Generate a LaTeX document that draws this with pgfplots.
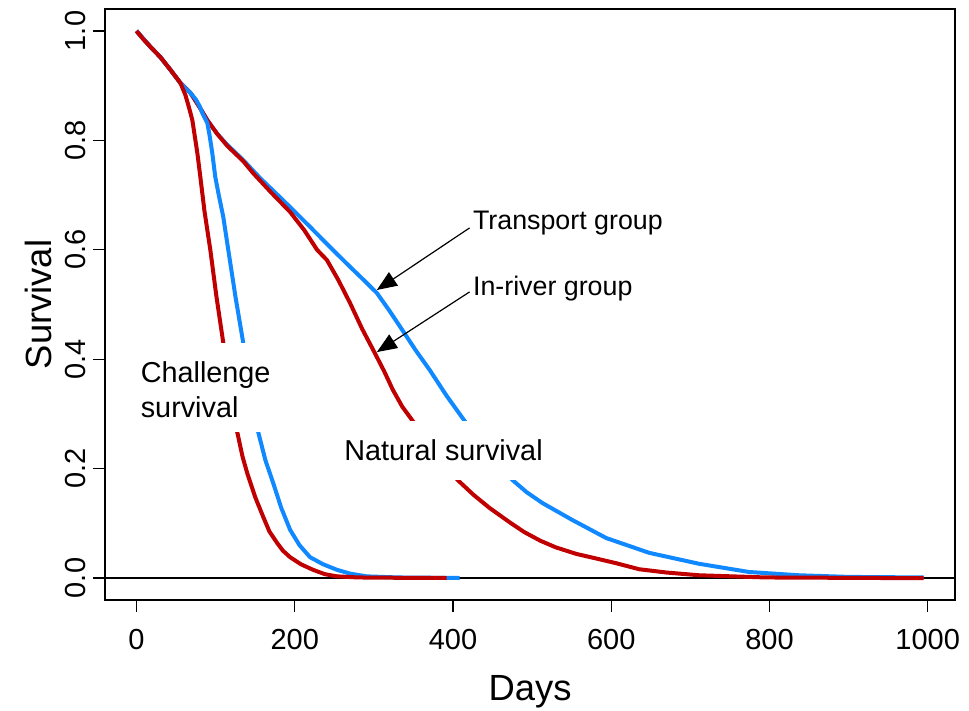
\documentclass[border=0pt]{standalone}
\usepackage{pgfplots}
\pgfplotsset{compat=1.18}
\usepackage{fontspec}
\setmainfont{Liberation Sans}
\usetikzlibrary{arrows.meta}
\definecolor{cred}{RGB}{192,0,0}
\definecolor{cblue}{RGB}{16,136,255}
\begin{document}
\begin{tikzpicture}
\useasboundingbox (-52.5pt,-55.5pt) rectangle (432pt,300pt);
\begin{axis}[
  at={(0,0)}, anchor=south west,
  scale only axis, width=425pt, height=295.5pt,
  xmin=-39.8, xmax=1034.5, ymin=-0.0402, ymax=1.0402,
  axis line style={line width=1pt},
  xtick={0,200,400,600,800,1000},
  ytick={0,0.2,0.4,0.6,0.8,1.0},
  tick align=outside, tick pos=left,
  major tick length=6pt,
  tick style={line width=0.6pt, black},
  /pgf/number format/assume math mode=true,
  /pgf/number format/1000 sep={},
  yticklabel style={/pgf/number format/fixed, /pgf/number format/fixed zerofill, /pgf/number format/precision=1, rotate=90, anchor=south, font=\fontsize{14.5}{17}\selectfont},
  xticklabel style={font=\fontsize{14.5}{17}\selectfont, yshift=-5pt},
  scaled ticks=false,
  xlabel={Days}, ylabel={Survival},
  xlabel style={at={(axis description cs:0.5,-0.1557)}, anchor=center, font=\fontsize{18.2}{21}\selectfont},
  ylabel style={at={(axis description cs:-0.0788,0.5)}, anchor=center, rotate=0, font=\fontsize{18.2}{21}\selectfont},
  clip=true,
]
\draw[line width=0.6pt] (axis cs:-39.8,0) -- (axis cs:1034.5,0);
% Transport natural
\addplot[cblue, line width=2pt, line join=round] coordinates {
(0,1.0) (17.6,0.971) (30.3,0.952) (42.9,0.929) (55.5,0.905) (68.1,0.887) (80,0.860) (89.5,0.837) (102,0.812) (114.7,0.792) (134.9,0.764) (156.3,0.731) (175,0.705) (194.2,0.678) (220,0.641) (244.6,0.605) (269.8,0.569) (287,0.545) (303.8,0.521) (320,0.488) (336.6,0.452) (353,0.416) (370.7,0.380) (392,0.333) (414.8,0.287) (445,0.230) (475.3,0.179) (493,0.157) (513.1,0.137) (550.9,0.106) (593.8,0.073) (648.0,0.046) (711.0,0.026) (774.1,0.011) (837.1,0.005) (900.2,0.002) (994.7,0.001)
};
% In-river natural
\addplot[cred, line width=2pt, line join=round] coordinates {
(0,1.0) (17.6,0.971) (30.3,0.952) (42.9,0.929) (55.5,0.905) (68.1,0.887) (80,0.860) (89.5,0.837) (102,0.812) (114.7,0.790) (134.9,0.762) (147.5,0.740) (170,0.705) (194.2,0.669) (212,0.636) (228.2,0.600) (240.8,0.581) (255,0.545) (269.8,0.503) (285,0.456) (301.3,0.411) (313,0.378) (324.0,0.344) (336,0.313) (349.2,0.287) (378,0.230) (406.0,0.179) (426,0.152) (446.3,0.128) (471.5,0.102) (490,0.084) (510.6,0.068) (530,0.056) (556.0,0.044) (580,0.036) (606.4,0.027) (635.4,0.016) (670,0.010) (711.0,0.005) (795.5,0.001) (941.8,0.0) (994.7,0.0)
};
% Transport challenge
\addplot[cblue, line width=2pt, line join=round] coordinates {
(0,1.0) (17.6,0.971) (30.3,0.952) (42.9,0.929) (55.5,0.905) (62,0.895) (68.1,0.887) (75,0.875) (80,0.862) (83.2,0.850) (89.5,0.832) (92.5,0.808) (95.8,0.777) (99.6,0.733) (104,0.700) (109.7,0.660) (116.0,0.600) (125,0.515) (134.9,0.430) (144,0.345) (153.8,0.267) (163,0.215) (172.7,0.174) (183,0.128) (194.2,0.088) (206,0.060) (219.4,0.038) (236,0.025) (253.4,0.015) (270,0.008) (291.2,0.003) (330,0.001) (408.5,0.0)
};
% In-river challenge
\addplot[cred, line width=2pt, line join=round] coordinates {
(0,1.0) (8,0.986) (17.6,0.971) (30.3,0.952) (42.9,0.929) (55.5,0.905) (61.8,0.883) (66,0.862) (70.6,0.837) (76.9,0.777) (80.7,0.733) (86,0.670) (93.3,0.600) (101,0.515) (109.7,0.430) (118,0.345) (127.3,0.267) (134,0.222) (139.9,0.192) (150,0.148) (160.1,0.112) (168,0.085) (177.8,0.064) (185,0.050) (194.2,0.038) (208,0.025) (223.1,0.015) (238,0.007) (253.4,0.003) (280,0.001) (320,0.0005) (392,0.0)
};
% white label backgrounds
\fill[white] (axis cs:-1,0.267) rectangle (axis cs:175,0.430);
\fill[white] (axis cs:257,0.179) rectangle (axis cs:519,0.287);
\node[anchor=west, align=left, inner sep=0pt, font=\fontsize{14.4}{17.5}\selectfont] at (axis cs:5,0.345) {Challenge\\survival};
\node[anchor=center, inner sep=0pt, font=\fontsize{14.4}{17.5}\selectfont] at (axis cs:388,0.234) {Natural survival};
\node[anchor=west, inner sep=0pt, font=\fontsize{13.4}{16}\selectfont] at (axis cs:424.9,0.649) {Transport group};
\node[anchor=west, inner sep=0pt, font=\fontsize{13.4}{16}\selectfont] at (axis cs:424.9,0.530) {In-river group};
\draw[line width=0.6pt, -{Triangle[length=10pt,width=8pt]}] (axis cs:421,0.640) -- (axis cs:303.8,0.5265);
\draw[line width=0.6pt, -{Triangle[length=10pt,width=8pt]}] (axis cs:421,0.523) -- (axis cs:303.8,0.413);
\end{axis}
\end{tikzpicture}
\end{document}
